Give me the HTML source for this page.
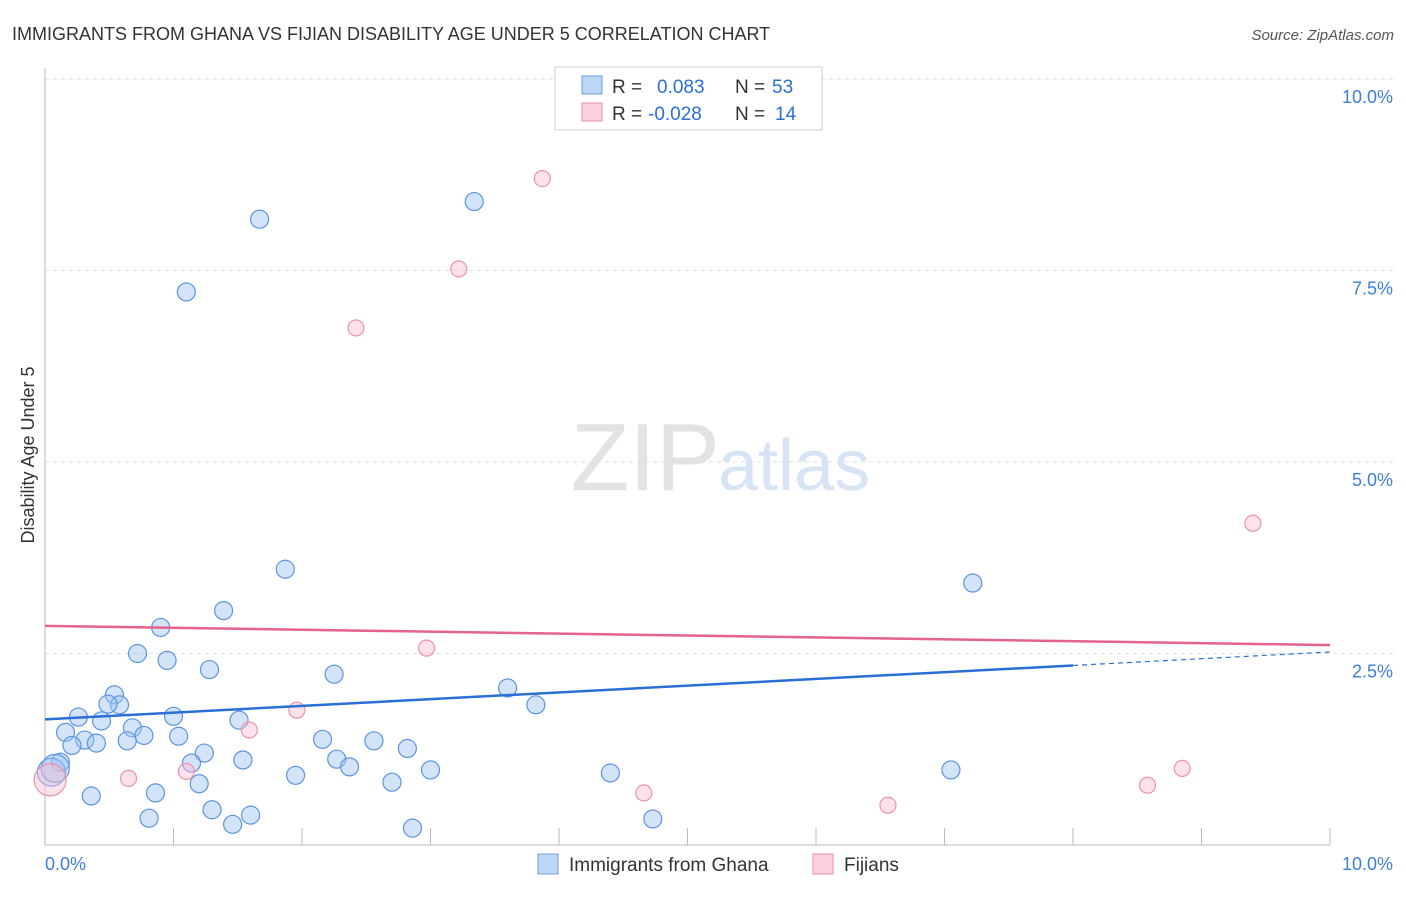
<!DOCTYPE html>
<html><head><meta charset="utf-8"><style>
body{margin:0;background:#fff;font-family:"Liberation Sans",sans-serif;}
svg text{font-family:"Liberation Sans",sans-serif;}
</style></head><body>
<svg id="chart" width="1406" height="892">
<text x="12" y="40" font-size="18" fill="#333">IMMIGRANTS FROM GHANA VS FIJIAN DISABILITY AGE UNDER 5 CORRELATION CHART</text>
<text x="1394" y="40" font-size="15" fill="#555" font-style="italic" text-anchor="end">Source: ZipAtlas.com</text>
<text x="720" y="490" font-size="96" fill="#e3e3e3" text-anchor="end" font-family="Liberation Serif">ZIP</text>
<text x="718" y="490" font-size="72" fill="#d6e4f5">atlas</text>
<text transform="translate(34,455) rotate(-90)" font-size="18" fill="#333" text-anchor="middle">Disability Age Under 5</text>
<g id="grid"></g><g id="marks"></g>
<g>
<rect x="555" y="67" width="267" height="63" fill="#fff" stroke="#ccc"/>
<rect x="582" y="76" width="20" height="18" fill="#bcd6f5" stroke="#6a9fe0"/>
<text x="612" y="93" font-size="19" fill="#333">R =</text>
<text x="657" y="93" font-size="19" fill="#2a6fd6">0.083</text>
<text x="735" y="93" font-size="19" fill="#333">N =</text>
<text x="772" y="93" font-size="19" fill="#2a6fd6">53</text>
<rect x="582" y="103" width="20" height="18" fill="#fbd0dc" stroke="#ee8fab"/>
<text x="612" y="120" font-size="19" fill="#333">R =</text>
<text x="648" y="120" font-size="19" fill="#2a6fd6">-0.028</text>
<text x="735" y="120" font-size="19" fill="#333">N =</text>
<text x="775" y="120" font-size="19" fill="#2a6fd6">14</text>
</g>
<g>
<rect x="538" y="854" width="20" height="20" fill="#bcd6f5" stroke="#6a9fe0"/>
<text x="569" y="871" font-size="19" fill="#333">Immigrants from Ghana</text>
<rect x="813" y="854" width="20" height="20" fill="#fbd0dc" stroke="#ee8fab"/>
<text x="844" y="871" font-size="19" fill="#333">Fijians</text>
</g>
</svg>
<script>
const blueX=[1.67,1.10,3.34,1.87,1.39,0.90,0.72,0.95,1.28,2.25,0.54,0.58,0.49,0.26,0.44,1.00,1.51,0.68,0.16,0.77,1.04,0.31,0.64,0.40,0.21,2.16,2.56,2.82,1.24,1.54,1.14,2.27,2.37,0.12,1.95,1.20,2.70,3.00,0.86,0.36,1.30,1.60,0.81,1.46,2.86,3.60,3.82,4.40,4.73,7.05,7.22,0.05,0.08];
const blueY=[8.17,7.22,8.40,3.60,3.06,2.84,2.50,2.41,2.29,2.23,1.96,1.83,1.84,1.67,1.62,1.68,1.63,1.53,1.47,1.43,1.42,1.37,1.36,1.33,1.30,1.38,1.36,1.26,1.20,1.11,1.07,1.12,1.02,1.08,0.91,0.80,0.82,0.98,0.68,0.64,0.46,0.39,0.35,0.27,0.22,2.05,1.83,0.94,0.34,0.98,3.42,0.95,1.00];
const pinkX=[3.87,3.22,2.42,2.97,1.96,1.59,1.10,0.65,4.66,6.56,8.58,8.85,9.40,0.04];
const pinkY=[8.70,7.52,6.75,2.57,1.76,1.50,0.96,0.87,0.68,0.52,0.78,1.00,4.20,0.85];
const blueTrend=[1.64,2.52];
const pinkTrend=[2.86,2.61];
const yTicks=[2.5,5.0,7.5,10.0];
const yTickLabels=["2.5%","5.0%","7.5%","10.0%"];
const xTickLabels=["0.0%","10.0%"];
const X0=45,X1=1330,Y0=845,Y1=79;
const sx=v=>X0+(X1-X0)*v/10, sy=v=>Y0-(Y0-Y1)*v/10;
const NS="http://www.w3.org/2000/svg";
const grid=document.getElementById('grid'), marks=document.getElementById('marks');
function mk(tag,at,parent){const e=document.createElementNS(NS,tag);for(const k in at)e.setAttribute(k,at[k]);parent.appendChild(e);return e;}
yTicks.forEach((t,i)=>{
 const l=mk('line',{x1:X0,x2:1395,y1:sy(t),y2:sy(t),stroke:'#ddd','stroke-dasharray':'4,4'},grid);
 
 
 const tx=mk('text',{x:1393,y:sy(t)+24,'font-size':18,fill:'#3d7fd9','text-anchor':'end'},grid);
 tx.textContent=yTickLabels[i];
 
 
});
const ax=mk('line',{x1:X0,x2:X0,y1:68,y2:Y0,stroke:'#bbb'},grid);


const bx=mk('line',{x1:X0,x2:X1,y1:Y0,y2:Y0,stroke:'#bbb'},grid);


for(let k=1;k<=10;k++){
 const t=mk('line',{x1:sx(k),x2:sx(k),y1:828,y2:Y0,stroke:'#bbb'},grid);
 
 
}
const xl0=mk('text',{x:45,y:870,'font-size':18,fill:'#3d7fd9'},grid);xl0.textContent=xTickLabels[0];


const xl1=mk('text',{x:1393,y:870,'font-size':18,fill:'#3d7fd9','text-anchor':'end'},grid);xl1.textContent=xTickLabels[1];


blueX.forEach((x,i)=>{
 const r=(i>=blueX.length-2)?14:9;
 const c=mk('circle',{cx:sx(x),cy:sy(blueY[i]),r:r,fill:'rgba(160,196,240,0.45)',stroke:'#5b95e0','stroke-width':1.2},marks);
 
 
});
pinkX.forEach((x,i)=>{
 const r=(i===pinkX.length-1)?16:8;
 const c=mk('circle',{cx:sx(x),cy:sy(pinkY[i]),r:r,fill:'rgba(250,190,210,0.45)',stroke:'#ec91ad','stroke-width':1.2},marks);
 
 
});
const by=v=>blueTrend[0]+(blueTrend[1]-blueTrend[0])*v/10;
const bl=mk('line',{x1:sx(0),y1:sy(by(0)),x2:sx(8),y2:sy(by(8)),stroke:'#2a6fd6','stroke-width':2.5},marks);


const bd=mk('line',{x1:sx(8),y1:sy(by(8)),x2:sx(10),y2:sy(by(10)),stroke:'#2a6fd6','stroke-width':1.2,'stroke-dasharray':'5,4'},marks);


const pl=mk('line',{x1:sx(0),y1:sy(pinkTrend[0]),x2:sx(10),y2:sy(pinkTrend[1]),stroke:'#e4628d','stroke-width':2.5},marks);


</script>
</body></html>
